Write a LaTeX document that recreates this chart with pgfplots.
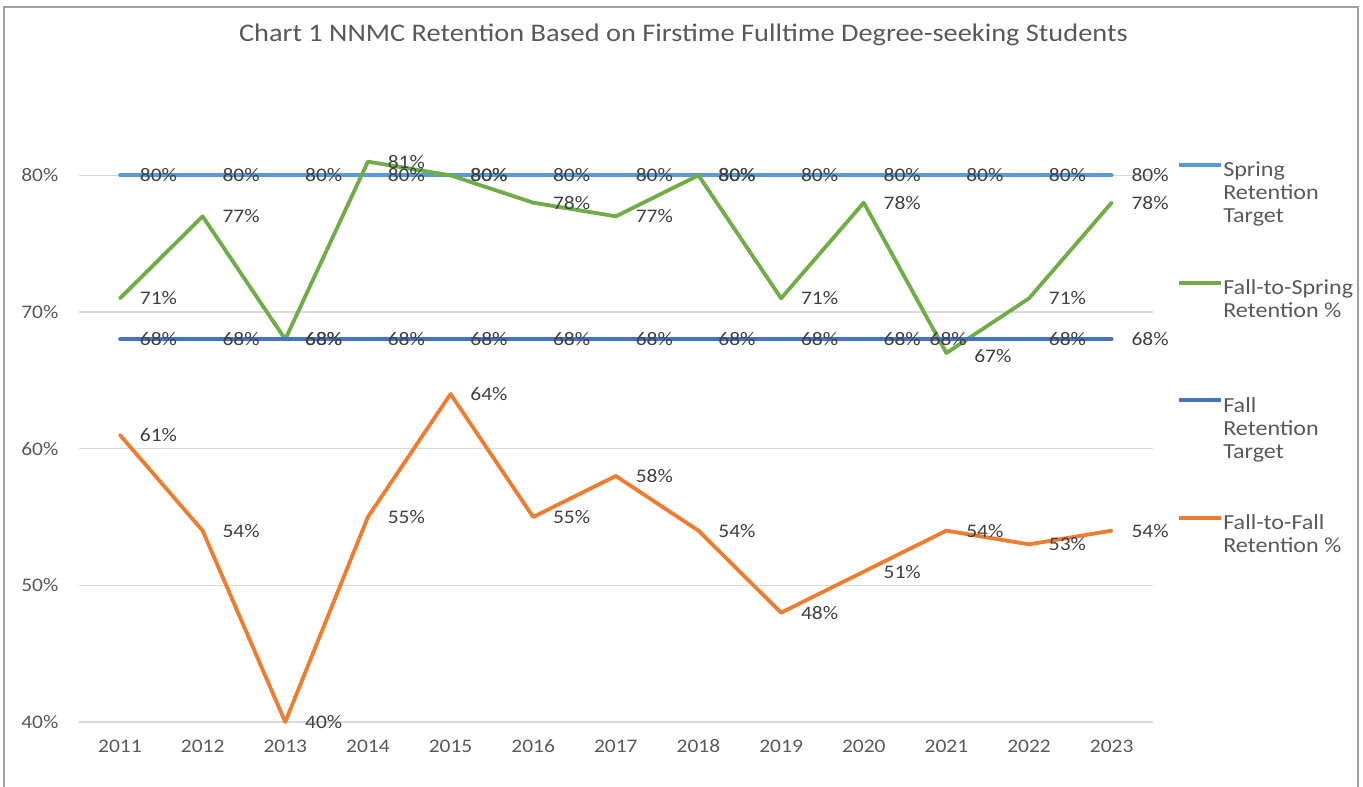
\documentclass[border=0pt]{standalone}
\usepackage{pgfplots}
\pgfplotsset{compat=1.18}
\usepackage{pgfplotstable}
\usepackage{fontspec}
\setmainfont{Carlito}[FakeStretch=1.12]
\definecolor{springc}{HTML}{5B9BD5}
\definecolor{greenc}{HTML}{70AD47}
\definecolor{fallc}{HTML}{4472C4}
\definecolor{orangec}{HTML}{ED7D31}
\definecolor{tickgray}{HTML}{595959}
\definecolor{labgray}{HTML}{404040}
\definecolor{gridgray}{HTML}{D9D9D9}
\definecolor{framegray}{HTML}{A0A0A0}

% x = year index (0 = 2011), y = percent, dx/dy = label offsets in pt
\pgfplotstableread{
x y dx dy
0 80 10.8 0
1 80 10.8 0
2 80 10.8 0
3 80 10.8 0
4 80 10.8 0
5 80 10.8 0
6 80 10.8 0
7 80 10.8 0
8 80 10.8 0
9 80 10.8 0
10 80 10.8 0
11 80 10.8 0
12 80 10.8 0
}\springtarget

\pgfplotstableread{
x y dx dy
0 71 10.8 0
1 77 10.8 0
2 68 10.8 0
3 81 10.8 0
4 80 10.8 0
5 78 10.8 0
6 77 10.8 0
7 80 10.8 0
8 71 10.8 0
9 78 10.8 0
10 67 15.6 -1.8
11 71 10.8 0
12 78 10.8 0
}\fallspring

\pgfplotstableread{
x y dx dy
0 68 10.8 0
1 68 10.8 0
2 68 10.8 0
3 68 10.8 0
4 68 10.8 0
5 68 10.8 0
6 68 10.8 0
7 68 10.8 0
8 68 10.8 0
9 68 10.8 0
10 68 -11.2 0
11 68 10.8 0
12 68 10.8 0
}\falltarget

\pgfplotstableread{
x y dx dy
0 61 10.8 0
1 54 10.8 0
2 40 10.8 0
3 55 10.8 0
4 64 10.8 0
5 55 10.8 0
6 58 10.8 0
7 54 10.8 0
8 48 10.8 0
9 51 10.8 0
10 54 10.8 0
11 53 10.8 0
12 54 10.8 0
}\fallfall

\newcommand{\lent}[3]{\parbox[t]{90pt}{\strut #1\\#2\\#3\strut}}

\begin{document}
\begin{tikzpicture}
\path[use as bounding box] (0,0) rectangle (817.8pt,471.6pt);
\draw[framegray, line width=1.1pt] (2.4pt,-2pt) -- (2.4pt,467.4pt) -- (814.8pt,467.4pt) -- (814.8pt,-2pt);
\node[text=tickgray, font=\fontsize{15.2}{17}\selectfont] at (410pt,450.6pt) {Chart 1 NNMC Retention Based on Firstime Fulltime Degree-seeking Students};
\begin{axis}[
  at={(47.2pt,38.4pt)}, anchor=south west,
  scale only axis, width=644.6pt, height=369pt,
  xmin=-0.5, xmax=12.5, ymin=40, ymax=85,
  xtick={0,1,2,3,4,5,6,7,8,9,10,11,12},
  xticklabels={2011,2012,2013,2014,2015,2016,2017,2018,2019,2020,2021,2022,2023},
  ytick={40,50,60,70,80},
  yticklabels={40\%,50\%,60\%,70\%,80\%},
  /pgf/number format/assume math mode=true,
  ymajorgrids,
  major grid style={draw=gridgray, line width=0.7pt},
  axis line style={draw=none},
  major tick length=0pt,
  tick label style={font=\fontsize{11.5}{13}\selectfont, text=tickgray},
  yticklabel shift=8.6pt,
  xticklabel shift=7pt,
  clip=false,
  every axis plot/.append style={line width=2.3pt, line join=round, line cap=round, mark=none},
  nodes near coords={\pgfmathprintnumber{\pgfplotspointmeta}\%},
  visualization depends on={\thisrow{dx} \as \ldx},
  visualization depends on={\thisrow{dy} \as \ldy},
  every node near coord/.append style={anchor=west, inner sep=0pt, xshift=\ldx pt, yshift=\ldy pt,
     text=labgray, font=\fontsize{11.5}{13}\selectfont},
  legend cell align=left,
  legend image code/.code={\draw[#1, line cap=butt] (0pt,0.3em) -- (25pt,0.3em);},
  legend style={at={(1.0223,0.9124)}, anchor=north west, draw=none, fill=none,
     inner sep=0pt, outer sep=0pt, row sep=59.4pt, column sep=0.5pt,
     font=\fontsize{12.9}{13.8}\selectfont, text=tickgray,
     nodes={inner sep=0pt}},
]
\addplot[springc] table[x=x, y=y] {\springtarget};
\addlegendentry{\lent{Spring}{Retention}{Target}}
\addplot[greenc] table[x=x, y=y] {\fallspring};
\addlegendentry{\lent{Fall-to-Spring}{Retention \%}{}}
\addplot[fallc] table[x=x, y=y] {\falltarget};
\addlegendentry{\lent{Fall}{Retention}{Target}}
\addplot[orangec] table[x=x, y=y] {\fallfall};
\addlegendentry{\lent{Fall-to-Fall}{Retention \%}{}}
\end{axis}
\end{tikzpicture}
\end{document}
